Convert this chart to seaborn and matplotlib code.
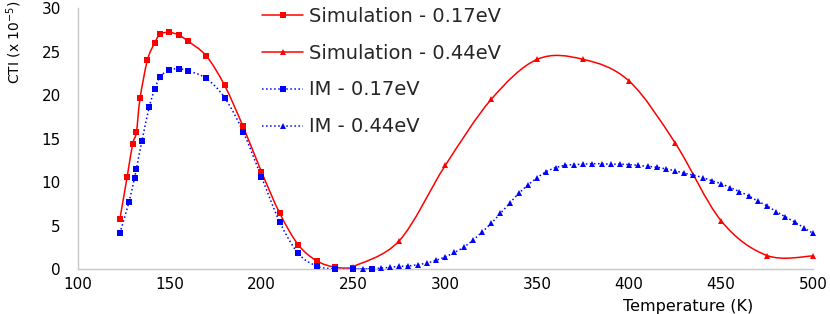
import matplotlib
matplotlib.use('Agg')
import matplotlib.pyplot as plt
import seaborn as sns
import numpy as np
from matplotlib.path import Path
from matplotlib.patches import PathPatch
from matplotlib.lines import Line2D

# --- data ---
sim017_t = [123, 127, 130, 132, 134, 138, 142, 145, 150, 155, 160, 170, 180,
            190, 200, 210, 220, 230, 240, 250]
sim017_cti = [5.7, 10.6, 14.4, 15.7, 19.6, 24.0, 26.0, 27.0, 27.2, 26.9, 26.2,
              24.5, 21.1, 16.4, 11.2, 6.4, 2.8, 0.95, 0.2, 0.1]

sim044_t = [250, 275, 300, 325, 350, 375, 400, 425, 450, 475, 500]
sim044_cti = [0.27, 3.25, 11.9, 19.5, 24.1, 24.1, 21.6, 14.5, 5.55, 1.55, 1.5]

im017_t = [123, 128, 131, 132, 135, 139, 142, 145, 150, 155, 160, 170, 180,
           190, 200, 210, 220, 230, 240, 250, 260]
im017_cti = [4.1, 7.7, 10.5, 11.5, 14.7, 18.6, 20.7, 22.1, 22.9, 23.0, 22.8,
             21.9, 19.7, 15.8, 10.6, 5.4, 1.8, 0.35, 0.0, 0.0, 0.0]

im044_t = list(range(250, 505, 5))
im044_cti = [0.0, 0.02, 0.05, 0.1, 0.2, 0.3, 0.35, 0.5, 0.69, 1.0, 1.4, 1.9,
             2.5, 3.3, 4.25, 5.25, 6.4, 7.55, 8.7, 9.65, 10.5, 11.2, 11.65,
             11.9, 12.0, 12.05, 12.1, 12.1, 12.05, 12.05, 12.0, 11.9, 11.8,
             11.7, 11.5, 11.3, 11.0, 10.8, 10.5, 10.15, 9.8, 9.35, 8.9, 8.4,
             7.8, 7.25, 6.6, 6.0, 5.4, 4.75, 4.1]

labels = ['Simulation - 0.17eV', 'Simulation - 0.44eV',
          'IM - 0.17eV', 'IM - 0.44eV']

RED = '#ff0000'
BLUE = '#0000ff'


def smooth_path(xs, ys):
    """Spreadsheet-style smoothed line: cubic Bezier through every point."""
    p = np.column_stack([xs, ys]).astype(float)
    n = len(p)
    verts = [p[0]]
    codes = [Path.MOVETO]
    for i in range(n - 1):
        p0 = p[i - 1] if i > 0 else p[i]
        p3 = p[i + 2] if i + 2 < n else p[i + 1]
        c1 = p[i] + (p[i + 1] - p0) / 6.0
        c2 = p[i + 1] - (p3 - p[i]) / 6.0
        verts += [c1, c2, p[i + 1]]
        codes += [Path.CURVE4] * 3
    return Path(verts, codes)


sns.set_style('white')
plt.rcParams['font.family'] = ['DejaVu Sans']

fig = plt.figure(figsize=(8.3, 3.14), dpi=100)
ax = fig.add_axes([0.0934, 0.1433, 0.8861, 0.8312])

series = [
    (sim017_t, sim017_cti, RED, '-', 's', 4.8),
    (sim044_t, sim044_cti, RED, '-', '^', 4.8),
    (im017_t, im017_cti, BLUE, ':', 's', 4.8),
    (im044_t, im044_cti, BLUE, ':', '^', 4.8),
]

for xs, ys, col, ls, mk, ms in series:
    ax.add_patch(PathPatch(smooth_path(xs, ys), facecolor='none',
                           edgecolor=col, linestyle=ls, linewidth=1.1,
                           zorder=2))
for xs, ys, col, ls, mk, ms in series:
    sns.lineplot(x=xs, y=ys, ax=ax, color=col, linestyle='', marker=mk,
                 markersize=ms, markeredgewidth=0, sort=False,
                 estimator=None, clip_on=False, zorder=3)

ax.set_xlim(100, 500)
ax.set_ylim(0, 30)
ax.set_xticks(np.arange(100, 501, 50))
ax.set_yticks(np.arange(0, 31, 5))

for side in ['top', 'right']:
    ax.spines[side].set_visible(False)
for side in ['left', 'bottom']:
    ax.spines[side].set_color('#c8c8c8')
    ax.spines[side].set_linewidth(1.0)

ax.tick_params(axis='both', which='major', direction='out', length=3.0,
               width=1.0, color='#c8c8c8', labelsize=11, labelcolor='black')
ax.tick_params(axis='x', pad=2.4)
ax.tick_params(axis='y', pad=9)

ax.set_xlabel('Temperature (K)', fontsize=11.5, color='black')
ax.xaxis.set_label_coords(0.83, -0.1705)
ax.xaxis.label.set_va('bottom')
ax.set_ylabel('CTI (x 10$^{-5}$)', fontsize=10, color='black')
ax.yaxis.set_label_coords(-0.073, 0.87)

handles = [Line2D([], [], color=col, linestyle=ls, linewidth=1.1, marker=mk,
                  markersize=ms, markeredgewidth=0)
           for xs, ys, col, ls, mk, ms in series]
ax.legend(handles, labels, loc='upper left', bbox_to_anchor=(0.251, 1.005),
          frameon=False, fontsize=14, handlelength=2.1, handletextpad=0.3,
          labelspacing=0.92, borderaxespad=0, borderpad=0)

fig.savefig('out.png', dpi=100, facecolor='white')
